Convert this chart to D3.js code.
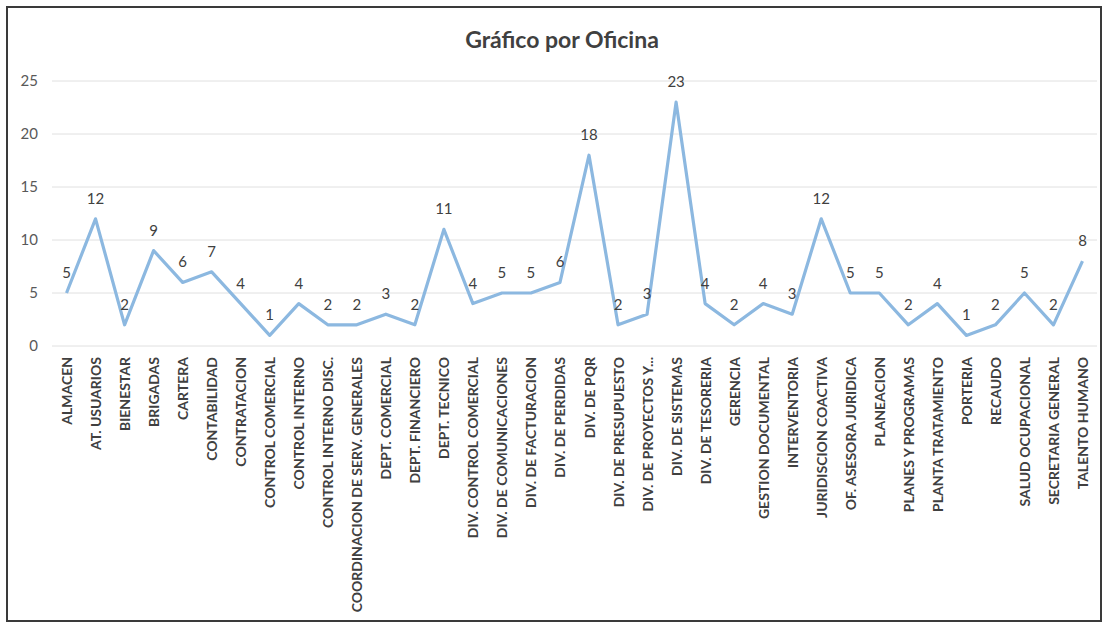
<!DOCTYPE html>
<html><head><meta charset="utf-8">
<script src="https://cdn.jsdelivr.net/npm/d3@7/dist/d3.min.js"></script>
<style>body{margin:0;background:#fff;}svg{display:block;}</style>
</head><body>
<svg id="c" width="1105" height="629"></svg>
<script>
const categories = ["ALMACEN","AT. USUARIOS","BIENESTAR","BRIGADAS","CARTERA","CONTABILIDAD","CONTRATACION","CONTROL COMERCIAL","CONTROL INTERNO","CONTROL INTERNO DISC.","COORDINACION DE SERV. GENERALES","DEPT. COMERCIAL","DEPT. FINANCIERO","DEPT. TECNICO","DIV. CONTROL COMERCIAL","DIV. DE COMUNICACIONES","DIV. DE FACTURACION","DIV. DE PERDIDAS","DIV. DE PQR","DIV. DE PRESUPUESTO","DIV. DE PROYECTOS Y...","DIV. DE SISTEMAS","DIV. DE TESORERIA","GERENCIA","GESTION DOCUMENTAL","INTERVENTORIA","JURIDISCION COACTIVA","OF. ASESORA JURIDICA","PLANEACION","PLANES Y PROGRAMAS","PLANTA TRATAMIENTO","PORTERIA","RECAUDO","SALUD OCUPACIONAL","SECRETARIA GENERAL","TALENTO HUMANO"];
const values = [5,12,2,9,6,7,4,1,4,2,2,3,2,11,4,5,5,6,18,2,3,23,4,2,4,3,12,5,5,2,4,1,2,5,2,8];
const yTicks = [0,5,10,15,20,25];
const title = "Gráfico por Oficina";

const svg = d3.select("#c");
const font = "Lato, 'Open Sans', sans-serif";

svg.append("rect").attr("x",7).attr("y",7).attr("width",1094).attr("height",614)
  .attr("fill","#fff").attr("stroke","#3a3a3a").attr("stroke-width",2);

const x = d3.scalePoint().domain(categories).range([52,1097]).padding(0.5);
const y = d3.scaleLinear().domain([0,25]).range([346,81]);

// gridlines
svg.append("g").selectAll("line").data(yTicks).join("line")
  .attr("x1",52).attr("x2",1097)
  .attr("y1",d=>y(d)).attr("y2",d=>y(d))
  .attr("stroke","#e0e0e0").attr("stroke-width",1);

// y axis
const yAxis = svg.append("g").attr("transform","translate(44,0)")
  .call(d3.axisLeft(y).tickValues(yTicks).tickSize(0).tickPadding(6));
yAxis.select(".domain").remove();
yAxis.selectAll("text").attr("font-family",font).attr("font-size",15).attr("fill","#595959");

// x axis
const xAxis = svg.append("g").attr("transform","translate(0,346)")
  .call(d3.axisBottom(x).tickSize(0));
xAxis.select(".domain").remove();
xAxis.selectAll("text")
  .attr("font-family",font).attr("font-size",14).attr("font-weight","bold").attr("fill","#404040")
  .attr("text-anchor","end").attr("dy",null)
  .attr("transform","translate(5,11) rotate(-90)")
  .attr("x",0).attr("y",0);

// line
svg.append("path").datum(values)
  .attr("fill","none").attr("stroke","#8cb8e0").attr("stroke-width",3.2)
  .attr("stroke-linejoin","round")
  .attr("d", d3.line().x((d,i)=>x(categories[i])).y(d=>y(d)));

// data labels
svg.append("g").selectAll("text").data(values).join("text")
  .attr("x",(d,i)=>x(categories[i]))
  .attr("y",d=>y(d)-15)
  .attr("text-anchor","middle")
  .attr("font-family",font).attr("font-size",15).attr("fill","#404040")
  .text(d=>d);

// title
svg.append("text").attr("x",562).attr("y",48).attr("text-anchor","middle")
  .attr("font-family",font).attr("font-size",23).attr("font-weight","bold").attr("fill","#404040")
  .text(title);
</script>
</body></html>
